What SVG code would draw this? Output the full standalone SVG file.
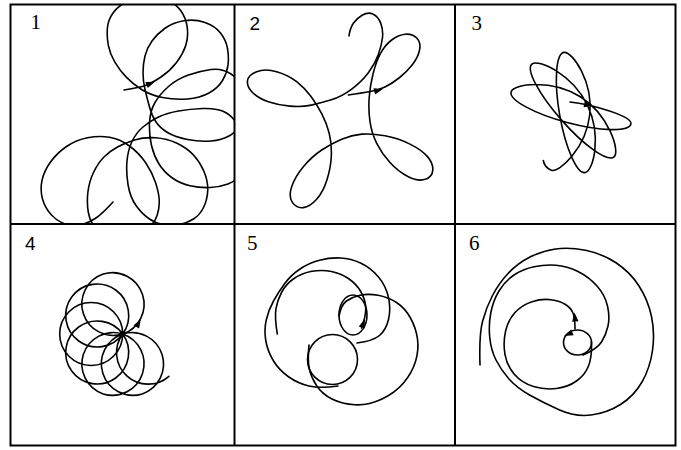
<svg xmlns="http://www.w3.org/2000/svg" width="681" height="450" viewBox="0 0 681 450">
<style>
.frame{fill:none;stroke:#000;stroke-width:2}
.curve{fill:none;stroke:#000;stroke-width:1.6;stroke-linejoin:round;stroke-linecap:round}
.serif{font-family:"Liberation Serif","Times New Roman",serif;font-size:21px;fill:#000}
.sans{font-family:"Liberation Sans",Arial,sans-serif;font-size:19px;fill:#000}
.ah{fill:#000}
</style>
<defs>
<path id="ah" d="M1,0 L-8,-3.2 L-8,3.2 Z"/>
<clipPath id="c1"><rect x="11" y="5" width="223" height="218.5"/></clipPath>
</defs>
<rect width="681" height="450" fill="#fff"/>
<g id="frame">
<rect class="frame" x="10.5" y="4.5" width="665" height="441"/>
<line class="frame" x1="234.5" y1="4.5" x2="234.5" y2="445.5"/>
<line class="frame" x1="455" y1="4.5" x2="455" y2="445.5"/>
<line class="frame" x1="10.5" y1="224" x2="675.5" y2="224"/>
</g>
<g id="labels">
<text class="serif" x="30.5" y="29">1</text>
<text class="sans" x="249.5" y="29.5">2</text>
<text class="serif" x="471.5" y="30">3</text>
<text class="sans" x="25" y="249.5">4</text>
<text class="serif" x="247" y="249.5">5</text>
<text class="serif" x="469" y="249.5">6</text>
</g>
<g id="panel1" clip-path="url(#c1)">
<path class="curve" d="M124,90 Q140,87.5 146,85.25 Q152,83 161,77 Q170,71 176.5,62.5 Q183,54 185.75,45.5 Q188.5,37 187.25,27.5 Q186,18 181,11 Q176,4 168,0.5 Q160,-3 148,-3 Q136,-3 127,1.5 Q118,6 113,13 Q108,20 107.35,28.5 Q106.7,37 108.35,45.5 Q110,54 115,62.35 Q120,70.7 126.5,77.35 Q133,84 141.5,89.5 Q150,95 162.5,97.5 Q175,100 187.5,99 Q200,98 209,93 Q218,88 222.5,80.5 Q227,73 228,65 Q229,57 227.5,48.5 Q226,40 220.5,33 Q215,26 205,22.5 Q195,19 184,20.75 Q173,22.5 165,28.25 Q157,34 152,41 Q147,48 145,56 Q143,64 143,72.5 Q143,81 145,89.5 Q147,98 149.5,107 Q152,116 156,122 Q160,128 167.5,132.5 Q175,137 187.5,139.5 Q200,142 211,141 Q222,140 229,136 Q236,132 240.5,125 Q245,118 245.5,109 Q246,100 243,90 Q240,80 231,74 Q222,68 211,69.5 Q200,71 188.5,75 Q177,79 168.5,86.5 Q160,94 155,102.5 Q150,111 149.5,123 Q149,135 151.5,145.5 Q154,156 159,164 Q164,172 172,177.75 Q180,183.5 190,185.75 Q200,188 210,187.5 Q220,187 228,184 Q236,181 240,174.5 Q244,168 244.5,159 Q245,150 242.5,139 Q240,128 235,121 Q230,114 222.5,111 Q215,108 202.5,108.5 Q190,109 178.5,111 Q167,113 158.5,117 Q150,121 143,127 Q136,133 132,141.5 Q128,150 127,161 Q126,172 128,184.5 Q130,197 136,205.5 Q142,214 149.5,219 Q157,224 164.5,225 Q172,226 179.5,224.5 Q187,223 193.5,219 Q200,215 203.75,207 Q207.5,199 207.75,190 Q208,181 204,171.5 Q200,162 193.5,155 Q187,148 177,143.25 Q167,138.5 155.5,137.75 Q144,137 134.5,140 Q125,143 117.5,147 Q110,151 104,157 Q98,163 93.5,172.5 Q89,182 87.85,192.5 Q86.7,203 88.35,212.5 Q90,222 95,227 Q100,232 112.5,232.5 Q125,233 135.5,231.5 Q146,230 150.5,226 Q155,222 157.25,215 Q159.5,208 159.25,200.5 Q159,193 155.5,182.5 Q152,172 145.5,162.5 Q139,153 129.5,146 Q120,139 109.5,137.25 Q99,135.5 87.5,137.75 Q76,140 66.5,146.5 Q57,153 50.5,162 Q44,171 42,180.5 Q40,190 42.5,199 Q45,208 51.5,215 Q58,222 66.5,224.5 Q75,227 82.5,224.5 Q90,222 96,218 Q102,214 113,202"/>
<use href="#ah" class="ah" transform="translate(154,82) rotate(-22)"/>
</g>
<g id="panel2">
<path class="curve" d="M348.3,95 Q362,93 370.5,91.5 Q379,90 385.5,86.75 Q392,83.5 399.35,77.75 Q406.7,72 412.5,64.5 Q418.3,57 419.65,49.5 Q421,42 416.5,37.75 Q412,33.5 405.15,34.25 Q398.3,35 391.65,40 Q385,45 380.5,53.5 Q376,62 373,74 Q370,86 369.15,98 Q368.3,110 370,121.65 Q371.7,133.3 376.7,143.3 Q381.7,153.3 390,162.5 Q398.3,171.7 408.3,176.7 Q418.3,181.7 425.3,179.35 Q432.3,177 432.8,170.15 Q433.3,163.3 427.5,156.65 Q421.7,150 410,144.15 Q398.3,138.3 385,135.8 Q371.7,133.3 361.7,134.15 Q351.7,135 341.7,139.15 Q331.7,143.3 321.7,150 Q311.7,156.7 303.35,166.7 Q295,176.7 291.65,186.7 Q288.3,196.7 292.5,202.6 Q296.7,208.5 303.35,207.6 Q310,206.7 316.65,199.2 Q323.3,191.7 327.15,179.2 Q331,166.7 331.35,155 Q331.7,143.3 329.2,133.3 Q326.7,123.3 321.7,113.65 Q316.7,104 310.85,96.15 Q305,88.3 296.65,81.65 Q288.3,75 276.65,71.65 Q265,68.3 256.65,71.65 Q248.3,75 247.5,80.85 Q246.7,86.7 252.5,92.5 Q258.3,98.3 268.3,101.65 Q278.3,105 290,106.15 Q301.7,107.3 311.35,105.15 Q321,103 331.35,99.85 Q341.7,96.7 351.7,89.2 Q361.7,81.7 368.35,72.85 Q375,64 378.35,54.5 Q381.7,45 382.5,37.5 Q383.3,30 380.8,23.35 Q378.3,16.7 373.3,14.2 Q368.3,11.7 362.5,15 Q356.7,18.3 353.35,23.3 Q350,28.3 349,36"/>
<use href="#ah" class="ah" transform="translate(382,89.3) rotate(-15)"/>
</g>
<g id="panel3">
<path class="curve" d="M570,102 C590,104 633,116.05 630.9,124.05 C628.8,132.05 600.2,131.4 567.1,122.5 C534,113.6 509,99.95 511.1,91.95 C513.2,83.95 550.8,78.5 579.9,96.5 C609,114.5 620.3,151.4 614.1,156.9 C607.9,162.4 584.5,146.1 561.8,120.4 C539.1,94.8 525.7,69.6 531.9,64.1 C538.1,58.6 572.4,74.2 587.3,105 C602.2,135.8 593.3,171.2 585.1,172.6 C577,174 565.6,148.3 559.7,115.1 C553.9,81.9 555.8,53.8 563.9,52.4 C572.1,51 593.5,81.5 589.7,115 C585.9,148.5 558.8,173.4 551.2,170.2 C548.9,169.2 544.3,166.5 543.3,160.5"/>
<use href="#ah" class="ah" transform="translate(592,105.9) rotate(13)"/>
</g>
<g id="panel4">
<path class="curve" d="M122.7,334 A31.5,31.5 0 0 0 103.2,274.1 A31.5,31.5 0 0 0 122.7,334 A31.5,31.5 0 0 0 71.7,297 A31.5,31.5 0 0 0 122.7,334 A31.5,31.5 0 0 0 59.7,334 A31.5,31.5 0 0 0 122.7,334 A31.5,31.5 0 0 0 71.7,371 A31.5,31.5 0 0 0 122.7,334 A31.5,31.5 0 0 0 103.2,393.9 A31.5,31.5 0 0 0 122.7,334 A31.5,31.5 0 0 0 142.2,393.9 A31.5,31.5 0 0 0 122.7,334 A31.5,31.5 0 0 0 168.9,376.3"/>
<use href="#ah" class="ah" transform="translate(140.3,320) rotate(-60)"/>
</g>
<g id="panel5">
<ellipse class="curve" cx="353" cy="315" rx="14" ry="20"/>
<circle class="curve" cx="332.5" cy="359.5" r="25"/>
<path class="curve" d="M339,316 Q341,305 346.5,301 Q352,297 360,295.25 Q368,293.5 378,295.25 Q388,297 396.5,302.5 Q405,308 410.5,318 Q416,328 417.5,339 Q419,350 415.5,361.5 Q412,373 403.5,383 Q395,393 381.5,399.25 Q368,405.5 355,404.75 Q342,404 332,399 Q322,394 316.5,385.5 Q311,377 309.25,368.5 Q307.5,360 309,345"/>
<path class="curve" d="M357,343 Q373,341 379.5,335.5 Q386,330 388.5,319.5 Q391,309 388.5,297.5 Q386,286 378.5,277 Q371,268 361,263.25 Q351,258.5 340.5,258 Q330,257.5 319.5,260.25 Q309,263 300,269 Q291,275 284.75,283.5 Q278.5,292 273.5,301 Q268.5,310 266.25,320 Q264,330 265.75,340.5 Q267.5,351 273.25,360.5 Q279,370 288.5,376.75 Q298,383.5 309,386 Q320,388.5 338,386"/>
<path class="curve" d="M361.5,328 Q366,316 365.75,308 Q365.5,300 361,292 Q356.5,284 348.75,278.75 Q341,273.5 331.5,271.5 Q322,269.5 312,271.25 Q302,273 294,278.5 Q286,284 281.75,292 Q277.5,300 276,308.5 Q274.5,317 277.3,334"/>
<use href="#ah" class="ah" transform="translate(364.5,320) rotate(-70)"/>
</g>
<g id="panel6">
<ellipse class="curve" cx="577.5" cy="342.5" rx="14" ry="12.5"/>
<path class="curve" d="M575,329 Q575,318 573,313 Q571,308 565.5,304.5 Q560,301 551,299.75 Q542,298.5 532,301.75 Q522,305 515,312.5 Q508,320 505.5,331.5 Q503,343 505,354.5 Q507,366 514.5,374.5 Q522,383 533.5,386.5 Q545,390 556.5,388.5 Q568,387 576.5,381 Q585,375 588.5,366 Q592,357 591.5,342"/>
<path class="curve" d="M583,355 Q597,349 601.5,342 Q606,335 608,326 Q610,317 607.5,306 Q605,295 597,286 Q589,277 578,271.5 Q567,266 556,265.25 Q545,264.5 534,266.75 Q523,269 514,275 Q505,281 499,291 Q493,301 490.75,313 Q488.5,325 489.75,337.5 Q491,350 496,360 Q501,370 509,379 Q517,388 530,395.25 Q543,402.5 559,409.75 Q575,417 591,415 Q607,413 620.5,404.5 Q634,396 642,382 Q650,368 652.5,350.5 Q655,333 651.5,316.5 Q648,300 639,286 Q630,272 616,262.75 Q602,253.5 585.5,250.25 Q569,247 555.5,249 Q542,251 530,257 Q518,263 508.5,273 Q499,283 492.5,295.5 Q486,308 482.5,321.5 Q479,335 480,365"/>
<use href="#ah" class="ah" transform="translate(574.6,313.5) rotate(-95)"/>
<use href="#ah" class="ah" transform="translate(565,335.5) rotate(157)"/>
</g>
</svg>
